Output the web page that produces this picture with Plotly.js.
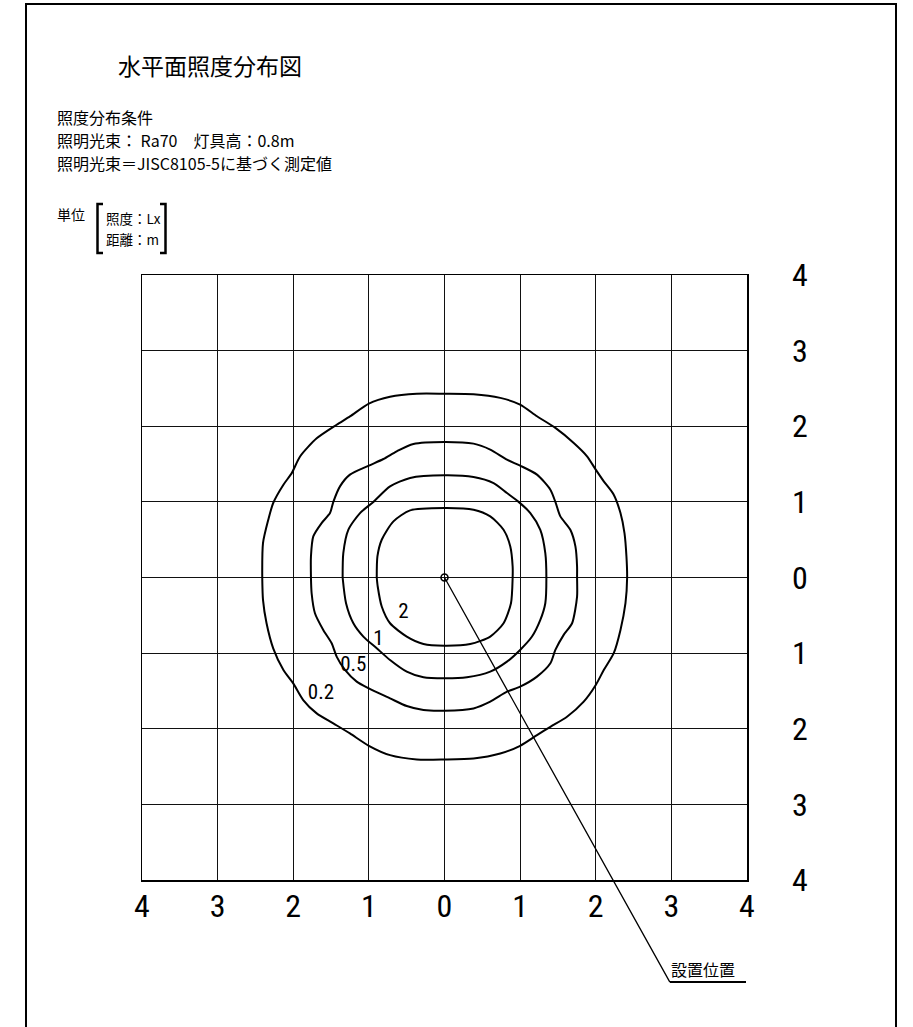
<!DOCTYPE html>
<html>
<head>
<meta charset="utf-8">
<script src="https://cdn.plot.ly/plotly-3.0.1.min.js"></script>
<style>
  html, body { margin: 0; padding: 0; background: #fff; }
  #chart { width: 913px; height: 1027px; }
</style>
</head>
<body>
<div id="chart"></div>
<script>
// grid ticks (metres); labels show the distance from the fixture, without sign
const tickVals = [-4, -3, -2, -1, 0, 1, 2, 3, 4];
const tickText = ["4", "3", "2", "1", "0", "1", "2", "3", "4"];

// iso-lux lines, clockwise from the left crossing of y=0
const isoLevels = ["0.2", "0.5", "1", "2"];

const iso02X = [-2.41, -2.40, -2.33, -2.265, -2.13, -2.02, -1.91, -1.69, -1.426, -1.25, -1.0, -0.72, -0.366, 0,
  0.384, 0.737, 1.0, 1.223, 1.466, 1.709, 1.885, 2.0, 2.106, 2.238, 2.327, 2.38, 2.406, 2.415,
  2.393, 2.327, 2.238, 2.106, 2.0, 1.841, 1.62, 1.4, 1.223, 1.0, 0.737, 0.384, 0,
  -0.366, -0.72, -1.0, -1.25, -1.47, -1.69, -1.868, -2.0, -2.13, -2.265, -2.353, -2.40, -2.41];
const iso02Y = [0, 0.455, 0.764, 0.985, 1.227, 1.38, 1.60, 1.84, 2.02, 2.13, 2.30, 2.39, 2.43, 2.43,
  2.424, 2.375, 2.287, 2.132, 1.978, 1.779, 1.603, 1.426, 1.272, 1.095, 0.852, 0.587, 0.278, 0,
  -0.34, -0.693, -1.0, -1.223, -1.422, -1.642, -1.841, -1.974, -2.084, -2.225, -2.327, -2.393, -2.406,
  -2.406, -2.349, -2.225, -2.062, -1.929, -1.797, -1.62, -1.40, -1.223, -0.936, -0.605, -0.296, 0];

const iso05X = [-1.766, -1.766, -1.735, -1.625, -1.514, -1.47, -1.382, -1.25, -1.0, -0.808, -0.631, -0.411, 0,
  0.384, 0.605, 0.826, 1.0, 1.223, 1.4, 1.466, 1.532, 1.664, 1.731, 1.753, 1.753,
  1.753, 1.687, 1.576, 1.466, 1.4, 1.223, 1.0, 0.826, 0.605, 0.384, 0,
  -0.278, -0.499, -0.72, -1.0, -1.161, -1.316, -1.426, -1.492, -1.603, -1.713, -1.757, -1.766];
const iso05Y = [0, 0.278, 0.543, 0.72, 0.852, 1.0, 1.205, 1.36, 1.479, 1.567, 1.669, 1.766, 1.793,
  1.77, 1.691, 1.558, 1.479, 1.36, 1.161, 1.0, 0.808, 0.631, 0.411, 0.146, 0,
  -0.252, -0.605, -0.759, -0.958, -1.135, -1.311, -1.444, -1.51, -1.642, -1.731, -1.762,
  -1.753, -1.70, -1.598, -1.466, -1.377, -1.223, -1.046, -0.87, -0.693, -0.472, -0.208, 0];

const iso1X = [-1.347, -1.338, -1.272, -1.117, -0.94, -0.72, -0.455, 0,
  0.384, 0.649, 0.826, 0.98, 1.135, 1.267, 1.333, 1.347,
  1.333, 1.267, 1.157, 1.0, 0.826, 0.605, 0.296, 0,
  -0.278, -0.499, -0.72, -0.896, -1.073, -1.205, -1.302, -1.347];
const iso1Y = [0, 0.322, 0.631, 0.852, 1.0, 1.205, 1.316, 1.351,
  1.329, 1.249, 1.117, 1.0, 0.852, 0.631, 0.322, 0,
  -0.34, -0.561, -0.781, -0.958, -1.113, -1.245, -1.32, -1.333,
  -1.32, -1.245, -1.091, -0.936, -0.781, -0.605, -0.34, 0];

const iso2X = [-0.896, -0.887, -0.83, -0.675, -0.455, 0,
  0.384, 0.605, 0.781, 0.87, 0.901, 0.901,
  0.879, 0.781, 0.605, 0.34, 0,
  -0.278, -0.499, -0.72, -0.83, -0.883, -0.896];
const iso2Y = [0, 0.278, 0.499, 0.742, 0.887, 0.918,
  0.896, 0.808, 0.631, 0.411, 0.146, 0,
  -0.34, -0.605, -0.781, -0.879, -0.901,
  -0.879, -0.781, -0.605, -0.384, -0.119, 0];

// where each level's label sits
const labelX = [-1.634, -1.205, -0.874, -0.543];
const labelY = [-1.532, -1.166, -0.826, -0.464];

// fixture position and the end of its leader line
const fixtureX = [0];
const fixtureY = [0];
const leaderEnd = [2.98, -5.35];

const titleText = "水平面照度分布図";
const conditionLines = [
  "照度分布条件",
  "照明光束： Ra70　灯具高：0.8m",
  "照明光束＝JISC8105-5に基づく測定値"
];
const unitLines = ["照度：Lx", "距離：m"];

// plot box in page pixels
const BOX = { left: 142, top: 275, size: 605 };
const JP = "'Noto Sans CJK JP', 'Noto Sans', sans-serif";
const NUM = "'Liberation Sans Narrow', 'Noto Sans Condensed', 'Roboto Condensed', 'Noto Sans CJK JP', sans-serif";

function px(x) { return (x - BOX.left) / BOX.size; }
function py(y) { return (BOX.top + BOX.size - y) / BOX.size; }

function pageText(text, x, y, size) {
  return {
    xref: "paper", yref: "paper", x: px(x), y: py(y),
    xanchor: "left", yanchor: "middle", align: "left", showarrow: false,
    text: text, font: { family: JP, size: size, color: "#000" }
  };
}

function isoTrace(xs, ys) {
  return {
    x: xs.concat(xs[0]), y: ys.concat(ys[0]),
    type: "scatter", mode: "lines",
    line: { color: "#000", width: 2, shape: "spline", smoothing: 0.7 },
    hoverinfo: "skip"
  };
}

const traces = [
  isoTrace(iso02X, iso02Y),
  isoTrace(iso05X, iso05Y),
  isoTrace(iso1X, iso1Y),
  isoTrace(iso2X, iso2Y),
  {
    x: labelX, y: labelY, text: isoLevels,
    type: "scatter", mode: "text", textposition: "middle center",
    textfont: { family: NUM, size: 21, color: "#000" },
    hoverinfo: "skip"
  },
  {
    x: fixtureX, y: fixtureY, type: "scatter", mode: "markers",
    marker: { symbol: "circle-open", size: 7, color: "#000", line: { width: 1.6, color: "#000" } },
    hoverinfo: "skip"
  }
];

const axisBase = {
  range: [-4, 4],
  tickmode: "array",
  tickvals: tickVals,
  ticktext: tickText,
  ticks: "",
  showgrid: true,
  gridcolor: "#111",
  gridwidth: 1,
  zeroline: false,
  showline: true,
  mirror: true,
  linecolor: "#000",
  linewidth: 1.5,
  fixedrange: true,
  tickfont: { family: NUM, size: 32, color: "#000" }
};

// condition lines: one text each, spaced so their boxes don't collide
const conditionNotes = conditionLines.map((line, i) => pageText(line, 55, 117 + i * 23, 16));

const annotations = [
  pageText(titleText, 116, 65, 23),
  ...conditionNotes,
  pageText("単位", 55, 214, 14),
  pageText(unitLines[0], 104, 218, 13.5),
  pageText(unitLines[1], 104, 239, 13.5),
  {
    x: fixtureX[0], y: fixtureY[0], xref: "x", yref: "y",
    ax: leaderEnd[0], ay: leaderEnd[1], axref: "x", ayref: "y",
    text: "設置位置", showarrow: true, arrowhead: 0, arrowwidth: 1.3, arrowcolor: "#000",
    standoff: 0, startstandoff: 0,
    xanchor: "left", yanchor: "bottom", borderpad: 0,
    font: { family: JP, size: 16, color: "#000" }
  }
];

const shapes = [
  // sheet frame
  { type: "rect", xref: "paper", yref: "paper", x0: px(26), x1: px(896), y0: py(1040), y1: py(4),
    line: { color: "#000", width: 2 } },
  // unit brackets
  { type: "path", xref: "paper", yref: "paper",
    path: `M ${px(103)} ${py(204)} L ${px(97.5)} ${py(204)} L ${px(97.5)} ${py(253)} L ${px(103)} ${py(253)}`,
    line: { color: "#000", width: 2.5 } },
  { type: "path", xref: "paper", yref: "paper",
    path: `M ${px(160)} ${py(204)} L ${px(165.5)} ${py(204)} L ${px(165.5)} ${py(253)} L ${px(160)} ${py(253)}`,
    line: { color: "#000", width: 2.5 } },
  // underline of the fixture label
  { type: "line", xref: "paper", yref: "paper", x0: px(670), x1: px(746), y0: py(982), y1: py(982),
    line: { color: "#000", width: 2 } }
];

const layout = {
  width: 913,
  height: 1027,
  margin: { l: 142, r: 166, t: 275, b: 147 },
  paper_bgcolor: "#fff",
  plot_bgcolor: "#fff",
  showlegend: false,
  xaxis: Object.assign({}, axisBase, { ticklabelstandoff: -3 }),
  yaxis: Object.assign({}, axisBase, { side: "right", ticklabelstandoff: 37 }),
  annotations: annotations,
  shapes: shapes,
  font: { family: JP, color: "#000" }
};

Plotly.newPlot("chart", traces, layout, { displayModeBar: false, staticPlot: true });
</script>
</body>
</html>
